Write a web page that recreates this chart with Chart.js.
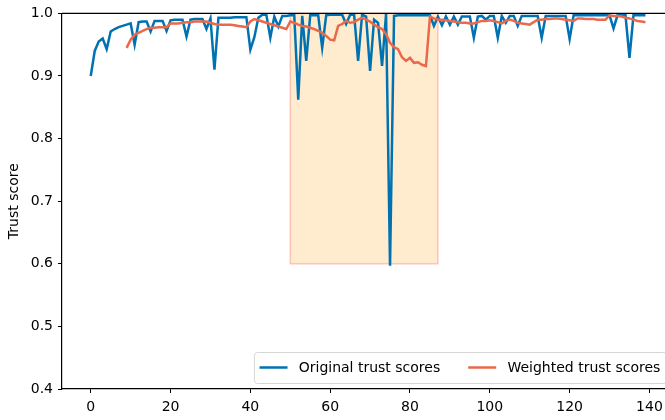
<!DOCTYPE html>
<html lang="en">
<head>
    <meta charset="UTF-8">
    <title>Trust scores</title>
    <script src="https://cdn.jsdelivr.net/npm/chart.js@4.4.1/dist/chart.umd.min.js"></script>
    <style>
        html, body { margin: 0; padding: 0; background: #fff; }
        #chart { display: block; }
    </style>
</head>
<body>
    <canvas id="chart" width="665" height="420"></canvas>

    <script>
        // Original trust score per step (x = index)
        const originalScores = [
            0.900, 0.940, 0.955, 0.960, 0.943, 0.971, 0.975, 0.978, 0.980, 0.982,
            0.984, 0.950, 0.986, 0.987, 0.987, 0.971, 0.988, 0.988, 0.988, 0.972,
            0.989, 0.990, 0.990, 0.990, 0.963, 0.990, 0.991, 0.991, 0.991, 0.975,
            0.992, 0.910, 0.993, 0.993, 0.993, 0.993, 0.994, 0.994, 0.994, 0.994,
            0.942, 0.962, 0.993, 0.998, 0.998, 0.961, 0.995, 0.979, 0.996, 0.996,
            0.997, 0.997, 0.862, 0.996, 0.924, 0.997, 0.997, 0.997, 0.945, 0.997,
            0.998, 0.998, 0.998, 0.998, 0.983, 0.998, 0.998, 0.924, 0.998, 0.995,
            0.908, 0.990, 0.985, 0.916, 0.999, 0.597, 0.996, 0.997, 0.997, 0.997,
            0.997, 0.997, 0.997, 0.997, 0.997, 0.997, 0.980, 0.995, 0.981, 0.995,
            0.982, 0.995, 0.982, 0.995, 0.995, 0.995, 0.961, 0.995, 0.996, 0.990,
            0.996, 0.996, 0.961, 0.996, 0.985, 0.996, 0.996, 0.980, 0.996, 0.996,
            0.996, 0.996, 0.996, 0.961, 0.996, 0.996, 0.996, 0.996, 0.996, 0.996,
            0.959, 0.997, 0.997, 0.997, 0.997, 0.997, 0.997, 0.997, 0.997, 0.997,
            0.997, 0.976, 0.997, 0.997, 0.997, 0.929, 0.997, 0.997, 0.997, 0.997
        ];

        // Weighted trust score, starts at step 9
        const weightedStart = 9;
        const weightedScores = [
                                                                        0.945,
            0.958, 0.966, 0.969, 0.972, 0.975, 0.977, 0.977, 0.978, 0.978, 0.978,
            0.984, 0.984, 0.984, 0.985, 0.986, 0.986, 0.987, 0.987, 0.987, 0.987,
            0.985, 0.983, 0.982, 0.982, 0.982, 0.982, 0.981, 0.980, 0.979, 0.978,
            0.987, 0.991, 0.989, 0.987, 0.985, 0.983, 0.981, 0.979, 0.977, 0.975,
            0.987, 0.985, 0.982, 0.980, 0.979, 0.977, 0.975, 0.972, 0.969, 0.964,
            0.958, 0.957, 0.980, 0.983, 0.988, 0.985, 0.986, 0.990, 0.993, 0.990,
            0.987, 0.982, 0.978, 0.975, 0.967, 0.953, 0.946, 0.943, 0.930, 0.924,
            0.929, 0.921, 0.922, 0.918, 0.916, 0.995, 0.992, 0.990, 0.990, 0.989,
            0.988, 0.987, 0.986, 0.985, 0.985, 0.984, 0.984, 0.986, 0.988, 0.988,
            0.989, 0.988, 0.986, 0.984, 0.988, 0.990, 0.988, 0.985, 0.984, 0.983,
            0.982, 0.986, 0.990, 0.990, 0.991, 0.991, 0.992, 0.992, 0.991, 0.990,
            0.989, 0.988, 0.992, 0.992, 0.991, 0.991, 0.991, 0.990, 0.990, 0.990,
            0.997, 0.996, 0.996, 0.995, 0.993, 0.992, 0.990, 0.988, 0.987, 0.986
        ];

        // Highlighted window
        const highlightX = [50, 87];
        const highlightY = [0.6, 1.0];

        const xTicks = [0, 20, 40, 60, 80, 100, 120, 140];
        const yTicks = [0.4, 0.5, 0.6, 0.7, 0.8, 0.9, 1.0];

        const BLUE = '#0072b2';
        const ORANGE = '#e8694c';

        Chart.defaults.font.family = "'DejaVu Sans', sans-serif";
        Chart.defaults.font.size = 14;
        Chart.defaults.color = '#000';

        // shaded box behind the lines, plus top spine
        const highlightPlugin = {
            id: 'highlight',
            beforeDatasetsDraw(chart) {
                const { ctx, scales: { x, y } } = chart;
                const x0 = x.getPixelForValue(highlightX[0]);
                const x1 = x.getPixelForValue(highlightX[1]);
                const y0 = y.getPixelForValue(highlightY[1]);
                const y1 = y.getPixelForValue(highlightY[0]);
                ctx.save();
                ctx.fillStyle = '#ffebcd';
                ctx.fillRect(x0, y0, x1 - x0, y1 - y0);
                ctx.strokeStyle = 'rgba(250, 128, 114, 0.4)';
                ctx.lineWidth = 1.5;
                ctx.strokeRect(x0, y0, x1 - x0, y1 - y0);
                ctx.restore();
            },
            afterDraw(chart) {
                const { ctx, chartArea } = chart;
                ctx.save();
                ctx.strokeStyle = '#000';
                ctx.lineWidth = 1.3;
                ctx.beginPath();
                ctx.moveTo(chartArea.left, chartArea.top);
                ctx.lineTo(chart.width, chartArea.top);
                ctx.stroke();
                ctx.restore();
            }
        };

        // matplotlib-like legend in the lower right corner
        const legendPlugin = {
            id: 'boxLegend',
            afterDraw(chart) {
                const { ctx, chartArea } = chart;
                const fs = 14;
                const items = chart.data.datasets.slice().sort((a, b) => b.order - a.order);
                ctx.save();
                ctx.font = fs + "px 'DejaVu Sans', sans-serif";
                const handle = 2 * fs, gap = 0.8 * fs, colSpace = 2 * fs, pad = 0.4 * fs;
                let width = pad * 2;
                items.forEach((d, i) => {
                    width += handle + gap + ctx.measureText(d.label).width;
                    if (i > 0) width += colSpace;
                });
                const h = 31;
                const right = chartArea.right + 1;
                const bottom = chartArea.bottom - 6;
                const left = right - width;
                const top = bottom - h;
                ctx.fillStyle = 'rgba(255,255,255,0.85)';
                ctx.strokeStyle = '#d6d6d6';
                ctx.lineWidth = 1;
                ctx.beginPath();
                ctx.roundRect(left + 0.5, top + 0.5, width, h, 3);
                ctx.fill();
                ctx.stroke();
                let cx = left + pad;
                const cy = top + h / 2;
                items.forEach((d, i) => {
                    if (i > 0) cx += colSpace;
                    ctx.strokeStyle = d.borderColor;
                    ctx.lineWidth = 2.5;
                    ctx.beginPath();
                    ctx.moveTo(cx, cy);
                    ctx.lineTo(cx + handle, cy);
                    ctx.stroke();
                    cx += handle + gap;
                    ctx.fillStyle = '#000';
                    ctx.textBaseline = 'middle';
                    ctx.fillText(d.label, cx, cy + 1);
                    cx += ctx.measureText(d.label).width;
                });
                ctx.restore();
            }
        };

        const axisStyle = {
            grid: { drawOnChartArea: false, drawTicks: true, tickLength: 4, color: '#000' },
            border: { display: true, color: '#000', width: 1.2 }
        };

        new Chart(document.getElementById('chart'), {
            type: 'line',
            data: {
                datasets: [
                    {
                        label: 'Weighted trust scores',
                        data: weightedScores.map((v, i) => ({ x: weightedStart + i, y: v })),
                        borderColor: ORANGE,
                        borderWidth: 2.5,
                        pointRadius: 0,
                        tension: 0,
                        order: 0
                    },
                    {
                        label: 'Original trust scores',
                        data: originalScores.map((v, i) => ({ x: i, y: v })),
                        borderColor: BLUE,
                        borderWidth: 2.5,
                        pointRadius: 0,
                        tension: 0,
                        order: 1
                    }
                ]
            },
            options: {
                responsive: false,
                animation: false,
                devicePixelRatio: 1,
                layout: { padding: { top: 12, right: 0, left: 0, bottom: 0 } },
                plugins: { legend: { display: false }, tooltip: { enabled: false } },
                scales: {
                    x: {
                        type: 'linear',
                        min: -7.2,
                        max: 143.9,
                        ...axisStyle,
                        ticks: { padding: 6, maxRotation: 0 },
                        afterBuildTicks: s => { s.ticks = xTicks.map(v => ({ value: v })); },
                        afterFit: s => { s.height = 31; s.paddingLeft = 0; s.paddingRight = 0; }
                    },
                    y: {
                        min: 0.4,
                        max: 1.0,
                        ...axisStyle,
                        ticks: { padding: 5, callback: v => v.toFixed(1) },
                        afterBuildTicks: s => { s.ticks = yTicks.map(v => ({ value: v })); },
                        afterFit: s => { s.width = 62; },
                        title: { display: true, text: 'Trust score', padding: { top: 6, bottom: 0 } }
                    }
                }
            },
            plugins: [highlightPlugin, legendPlugin]
        });
    </script>
</body>
</html>
